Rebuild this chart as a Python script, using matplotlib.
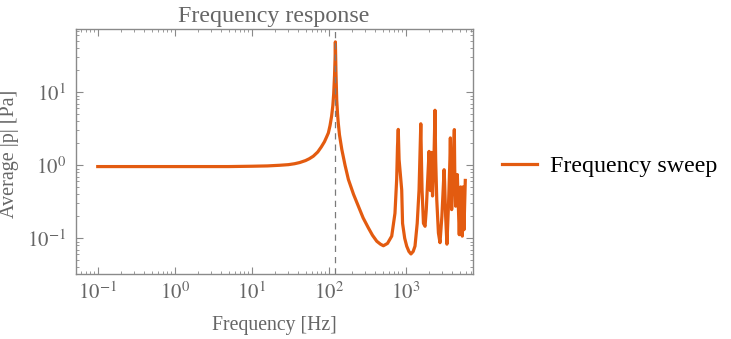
import matplotlib
matplotlib.use("Agg")
import matplotlib.pyplot as plt
from matplotlib.ticker import LogLocator, FixedLocator, FixedFormatter, NullFormatter

# values
freq = [0.1, 1, 5, 10, 16, 23, 30, 36, 42, 50, 56, 63, 72, 80, 88, 94, 99, 104, 109, 113, 116, 119, 121, 122,
        124, 127, 130, 133, 138, 148, 163, 180, 210, 243, 280, 327, 370, 421, 470, 513,
        580, 658, 725, 763, 782, 800, 820, 887, 910, 970, 1030, 1100, 1170,
        1250, 1320, 1410, 1490, 1530, 1570, 1600, 1630, 1700, 1783, 1850, 1920,
        2010, 2090, 2176, 2230, 2330, 2400, 2450, 2530, 2660, 2788, 2950, 3100,
        3150, 3200, 3300, 3430, 3600, 3750, 3800, 3850, 3950, 4150, 4280,
        4330, 4450, 4680, 4960, 5170, 5430, 5540, 5710, 5940]
amp = [0.96, 0.96, 0.96, 0.97, 0.98, 1.0, 1.02, 1.05, 1.09, 1.16, 1.23, 1.33, 1.52, 1.78, 2.1, 2.45, 2.78, 3.5, 4.7, 6.5, 9.5, 17.0, 30.0, 49.0,
       20.0, 7.9, 5.2, 3.8, 2.6, 1.64, 1.0, 0.64, 0.4, 0.274, 0.19, 0.139, 0.11, 0.091, 0.083, 0.079,
       0.085, 0.107, 0.22, 0.64, 1.8, 3.1, 1.2, 0.46, 0.16, 0.1, 0.078, 0.066, 0.061,
       0.066, 0.078, 0.16, 0.46, 1.33, 3.7, 1.2, 0.46, 0.16, 0.146, 0.247, 0.57,
       1.55, 0.45, 1.5, 0.38, 1.3, 5.67, 1.2, 0.34, 0.118, 0.087, 0.2, 0.6,
       0.87, 0.6, 0.2, 0.083, 0.3, 1.2, 2.37, 1.0, 0.247, 1.0, 3.08,
       0.9, 0.275, 0.746, 0.112, 0.505, 0.107, 0.505, 0.131, 0.62]
f_res = 122

x_ticks = [0.1, 1, 10, 100, 1000]
x_labels = [r"$10^{-1}$", r"$10^{0}$", r"$10^{1}$", r"$10^{2}$", r"$10^{3}$"]
y_ticks = [0.1, 1, 10]
y_labels = [r"$10^{-1}$", r"$10^{0}$", r"$10^{1}$"]

plt.rcParams["font.family"] = ["Liberation Serif", "DejaVu Serif"]
plt.rcParams["mathtext.fontset"] = "stix"

grey = "#666666"
frame = "#8a8a8a"
orange = "#e35b10"

fig = plt.figure(figsize=(7.31, 3.39), dpi=100)
ax = fig.add_axes([76 / 731, 1 - 274 / 339, 397 / 731, 245 / 339])

ax.plot(freq, amp, color=orange, lw=2.3, solid_joinstyle="round", label="Frequency sweep")
ax.axvline(f_res, color="#7a7a7a", lw=0.9, dashes=(5, 4))

ax.set_xscale("log")
ax.set_yscale("log")
ax.set_xlim(0.0522, 7480)
ax.set_ylim(0.0324, 73.6)

ax.xaxis.set_major_locator(FixedLocator(x_ticks))
ax.xaxis.set_major_formatter(FixedFormatter(x_labels))
ax.yaxis.set_major_locator(FixedLocator(y_ticks))
ax.yaxis.set_major_formatter(FixedFormatter(y_labels))
ax.xaxis.set_minor_locator(LogLocator(base=10, subs=range(2, 10), numticks=20))
ax.yaxis.set_minor_locator(LogLocator(base=10, subs=range(2, 10), numticks=20))
ax.xaxis.set_minor_formatter(NullFormatter())
ax.yaxis.set_minor_formatter(NullFormatter())

ax.tick_params(which="both", direction="in", top=True, right=True, color=frame,
               labelcolor=grey, labelsize=15)
ax.tick_params(which="major", length=5, width=0.8)
ax.tick_params(which="minor", length=2.5, width=0.6)
ax.tick_params(axis="x", pad=6)
ax.tick_params(axis="y", pad=7)
for s in ax.spines.values():
    s.set_color(frame)
    s.set_linewidth(1.0)

fig.text(274 / 731, 1 - 22 / 339, "Frequency response", ha="center", va="baseline",
         fontsize=17.3, color=grey)
fig.text(274 / 731, 1 - 330 / 339, "Frequency [Hz]", ha="center", va="baseline",
         fontsize=14.2, color=grey)
fig.text(10 / 731, 1 - 154 / 339, "Average |p| [Pa]", ha="center", va="center",
         rotation=90, fontsize=14.5, color=grey)

fig.legend(loc="center left", bbox_to_anchor=(502 / 731, 1 - 166 / 339), frameon=False,
           borderpad=0, borderaxespad=0, handlelength=1.45, handletextpad=0.55,
           prop={"size": 17.3})

fig.savefig("out.png", dpi=100)
